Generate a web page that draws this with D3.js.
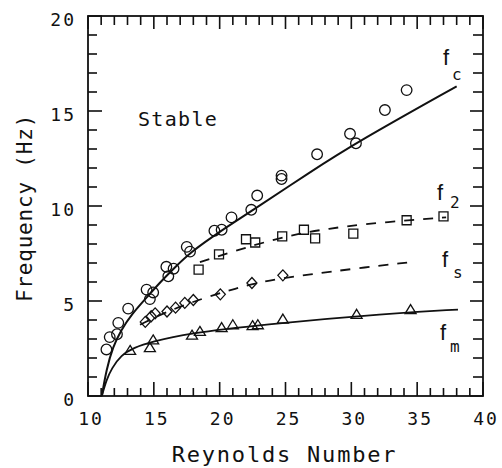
<!DOCTYPE html>
<html><head><meta charset="utf-8">
<script src="https://cdn.jsdelivr.net/npm/d3@7/dist/d3.min.js"></script>
<style>body{margin:0;background:#fff}</style>
</head><body>
<svg id="c" width="502" height="468"></svg>
<script>
// ---- data ----
const xTickValues = [10, 15, 20, 25, 30, 35, 40];
const yTickValues = [0, 5, 10, 15, 20];
const xTickLabels = ["10", "15", "20", "25", "30", "35", "40"];
const yTickLabels = ["0", "5", "10", "15", "20"];

// f_c : circles
const fcRe = [11.4, 11.65, 12.2, 12.3, 13.05, 14.45, 14.95, 14.7, 15.95, 16.5, 16.1, 17.5, 17.75, 19.6, 20.15, 20.9, 22.4, 22.85, 24.7, 24.7, 27.4, 29.9, 30.35, 32.55, 34.2];
const fcHz = [2.45, 3.1, 3.25, 3.85, 4.6, 5.6, 5.45, 5.1, 6.8, 6.7, 6.3, 7.85, 7.6, 8.7, 8.75, 9.4, 9.8, 10.55, 11.6, 11.42, 12.72, 13.8, 13.3, 15.05, 16.1];
// f_c : solid fit curve
const fcFitRe = [11.05, 11.4, 11.9, 12.5, 13.3, 14.6, 15.5, 16.5, 17.75, 20.0, 22.3, 26.9, 30.4, 38.0];
const fcFitHz = [0.0, 1.4, 2.6, 3.45, 4.3, 5.3, 6.0, 6.7, 7.55, 8.65, 9.68, 11.8, 13.35, 16.3];

// f_2 : squares
const f2Re = [18.4, 19.95, 22.0, 22.7, 24.75, 26.4, 27.25, 30.15, 34.2, 37.0];
const f2Hz = [6.65, 7.45, 8.25, 8.08, 8.4, 8.75, 8.3, 8.55, 9.25, 9.45];
const f2FitRe = [18.5, 21.0, 23.4, 26.0, 28.25, 30.9, 34.4, 37.2];
const f2FitHz = [7.05, 7.6, 8.1, 8.55, 8.8, 9.05, 9.25, 9.4];

// f_s : diamonds
const fsRe = [14.35, 14.8, 15.1, 16.0, 16.65, 17.35, 18.0, 20.05, 22.45, 24.8];
const fsHz = [3.9, 4.2, 4.35, 4.45, 4.65, 4.9, 5.05, 5.35, 5.95, 6.35];
const fsFitRe = [13.95, 16.0, 18.75, 21.15, 23.7, 26.9, 30.15, 34.35];
const fsFitHz = [3.75, 4.45, 5.15, 5.65, 6.1, 6.4, 6.7, 7.03];

// f_m : triangles
const fmRe = [13.2, 14.7, 14.95, 17.9, 18.5, 20.15, 21.0, 22.5, 22.9, 24.8, 30.4, 34.5];
const fmHz = [2.4, 2.55, 2.95, 3.2, 3.4, 3.6, 3.75, 3.7, 3.75, 4.05, 4.3, 4.55];
const fmFitRe = [11.05, 11.4, 11.8, 12.5, 13.5, 14.8, 17.6, 23.0, 32.9, 38.1];
const fmFitHz = [0.0, 0.85, 1.45, 2.15, 2.55, 2.85, 3.3, 3.75, 4.35, 4.55];

const xTitle = "Reynolds Number";
const yTitle = "Frequency (Hz)";
const regionLabel = "Stable";

// ---- chart ----
const svg = d3.select("#c");
const x = d3.scaleLinear().domain([10, 40]).range([88, 483]);
const y = d3.scaleLinear().domain([0, 20]).range([396, 16]);
const ink = "#111";

const xMinor = d3.range(10, 41, 1).filter(v => v % 5 !== 0);
const yMinor = d3.range(0, 21, 1).filter(v => v % 5 !== 0);

// ticks drawn from the scales (inward pointing), as thin rectangles
function xTickRects(vals, yBase, len) {
  svg.append("g").selectAll("rect").data(vals).join("rect")
    .attr("x", d => x(d) - 0.8).attr("width", 1.6)
    .attr("y", len < 0 ? yBase + len : yBase).attr("height", Math.abs(len))
    .attr("fill", ink);
}
function yTickRects(vals, xBase, len) {
  svg.append("g").selectAll("rect").data(vals).join("rect")
    .attr("y", d => y(d) - 0.8).attr("height", 1.6)
    .attr("x", len < 0 ? xBase + len : xBase).attr("width", Math.abs(len))
    .attr("fill", ink);
}
xTickRects(xTickValues, y(0), -14);
xTickRects(xMinor, y(0), -8);
xTickRects(xTickValues, y(20), 13);
xTickRects(xMinor, y(20), 9);
yTickRects(yTickValues, x(10), 14);
yTickRects(yMinor, x(10), 9);
yTickRects(yTickValues, x(40), -13);
yTickRects(yMinor, x(40), -10);

// frame
svg.append("rect")
  .attr("x", x(10)).attr("y", y(20))
  .attr("width", x(40) - x(10)).attr("height", y(0) - y(20))
  .attr("fill", "none").attr("stroke", ink).attr("stroke-width", 1.8);

const font = "'DejaVu Sans Mono', monospace";
// tick labels
svg.append("g").selectAll("text").data(xTickValues).join("text")
  .attr("x", d => x(d) + 3).attr("y", y(0) + 29)
  .attr("text-anchor", "middle")
  .attr("font-family", font).attr("font-size", 18).attr("letter-spacing", 2)
  .attr("fill", ink)
  .text((d, i) => xTickLabels[i]);
svg.append("g").selectAll("text").data(yTickValues).join("text")
  .attr("x", x(10) - 12).attr("y", d => y(d) + 10)
  .attr("text-anchor", "end")
  .attr("font-family", font).attr("font-size", 18).attr("letter-spacing", 2)
  .attr("fill", ink)
  .text((d, i) => yTickLabels[i]);

// axis titles
svg.append("text")
  .attr("x", (x(10) + x(40)) / 2 - 1).attr("y", 462)
  .attr("text-anchor", "middle")
  .attr("font-family", font).attr("font-size", 22).attr("letter-spacing", 1.8)
  .attr("fill", ink).text(xTitle);
svg.append("text")
  .attr("transform", `translate(32,${(y(0) + y(20)) / 2 + 2}) rotate(-90)`)
  .attr("text-anchor", "middle")
  .attr("font-family", font).attr("font-size", 21).attr("letter-spacing", 0.8)
  .attr("fill", ink).text(yTitle);

// region label
svg.append("text")
  .attr("x", x(13.8)).attr("y", y(14.2))
  .attr("font-family", font).attr("font-size", 20).attr("letter-spacing", 1.3)
  .attr("fill", ink).text(regionLabel);

// fit lines
const line = d3.line().x(d => x(d[0])).y(d => y(d[1])).curve(d3.curveBasis);
function fit(re, hz, dash, w) {
  svg.append("path").datum(d3.zip(re, hz))
    .attr("d", line).attr("fill", "none").attr("stroke", ink)
    .attr("stroke-width", w).attr("stroke-dasharray", dash);
}
fit(fcFitRe, fcFitHz, null, 2);
fit(fmFitRe, fmFitHz, null, 1.8);
fit(f2FitRe, f2FitHz, "10,9", 1.8);
fit(fsFitRe, fsFitHz, "10,9", 1.8);

// markers
const shapes = {
  circle: "M5.3,0A5.3,5.3 0 1,1 -5.3,0A5.3,5.3 0 1,1 5.3,0Z",
  square: "M-4.5,-4.5H4.5V4.5H-4.5Z",
  diamond: "M0,-5.5L5,0L0,5.5L-5,0Z",
  triangle: "M0,-5L5.5,4L-5.5,4Z"
};
function markers(re, hz, shape) {
  svg.append("g").selectAll("path").data(d3.zip(re, hz)).join("path")
    .attr("transform", d => `translate(${x(d[0])},${y(d[1])})`)
    .attr("d", shapes[shape])
    .attr("fill", "none").attr("stroke", ink).attr("stroke-width", 1.3);
}
markers(fcRe, fcHz, "circle");
markers(f2Re, f2Hz, "square");
markers(fsRe, fsHz, "diamond");
markers(fmRe, fmHz, "triangle");

// curve labels: f with subscript
const curveLabels = [
  {sub: "c", re: 36.96, hz: 17.42, dx: 9, dy: 15},
  {sub: "2", re: 36.5, hz: 10.32, dx: 13, dy: 8},
  {sub: "s", re: 36.88, hz: 6.79, dx: 11, dy: 11},
  {sub: "m", re: 36.73, hz: 2.95, dx: 10, dy: 12}
];
curveLabels.forEach(l => {
  svg.append("text").attr("x", x(l.re)).attr("y", y(l.hz))
    .attr("font-family", "'Liberation Sans', sans-serif").attr("font-size", 22)
    .attr("fill", ink).text("f");
  svg.append("text").attr("x", x(l.re) + l.dx).attr("y", y(l.hz) + l.dy)
    .attr("font-family", font).attr("font-size", 16)
    .attr("fill", ink).text(l.sub);
});
</script>
</body></html>
